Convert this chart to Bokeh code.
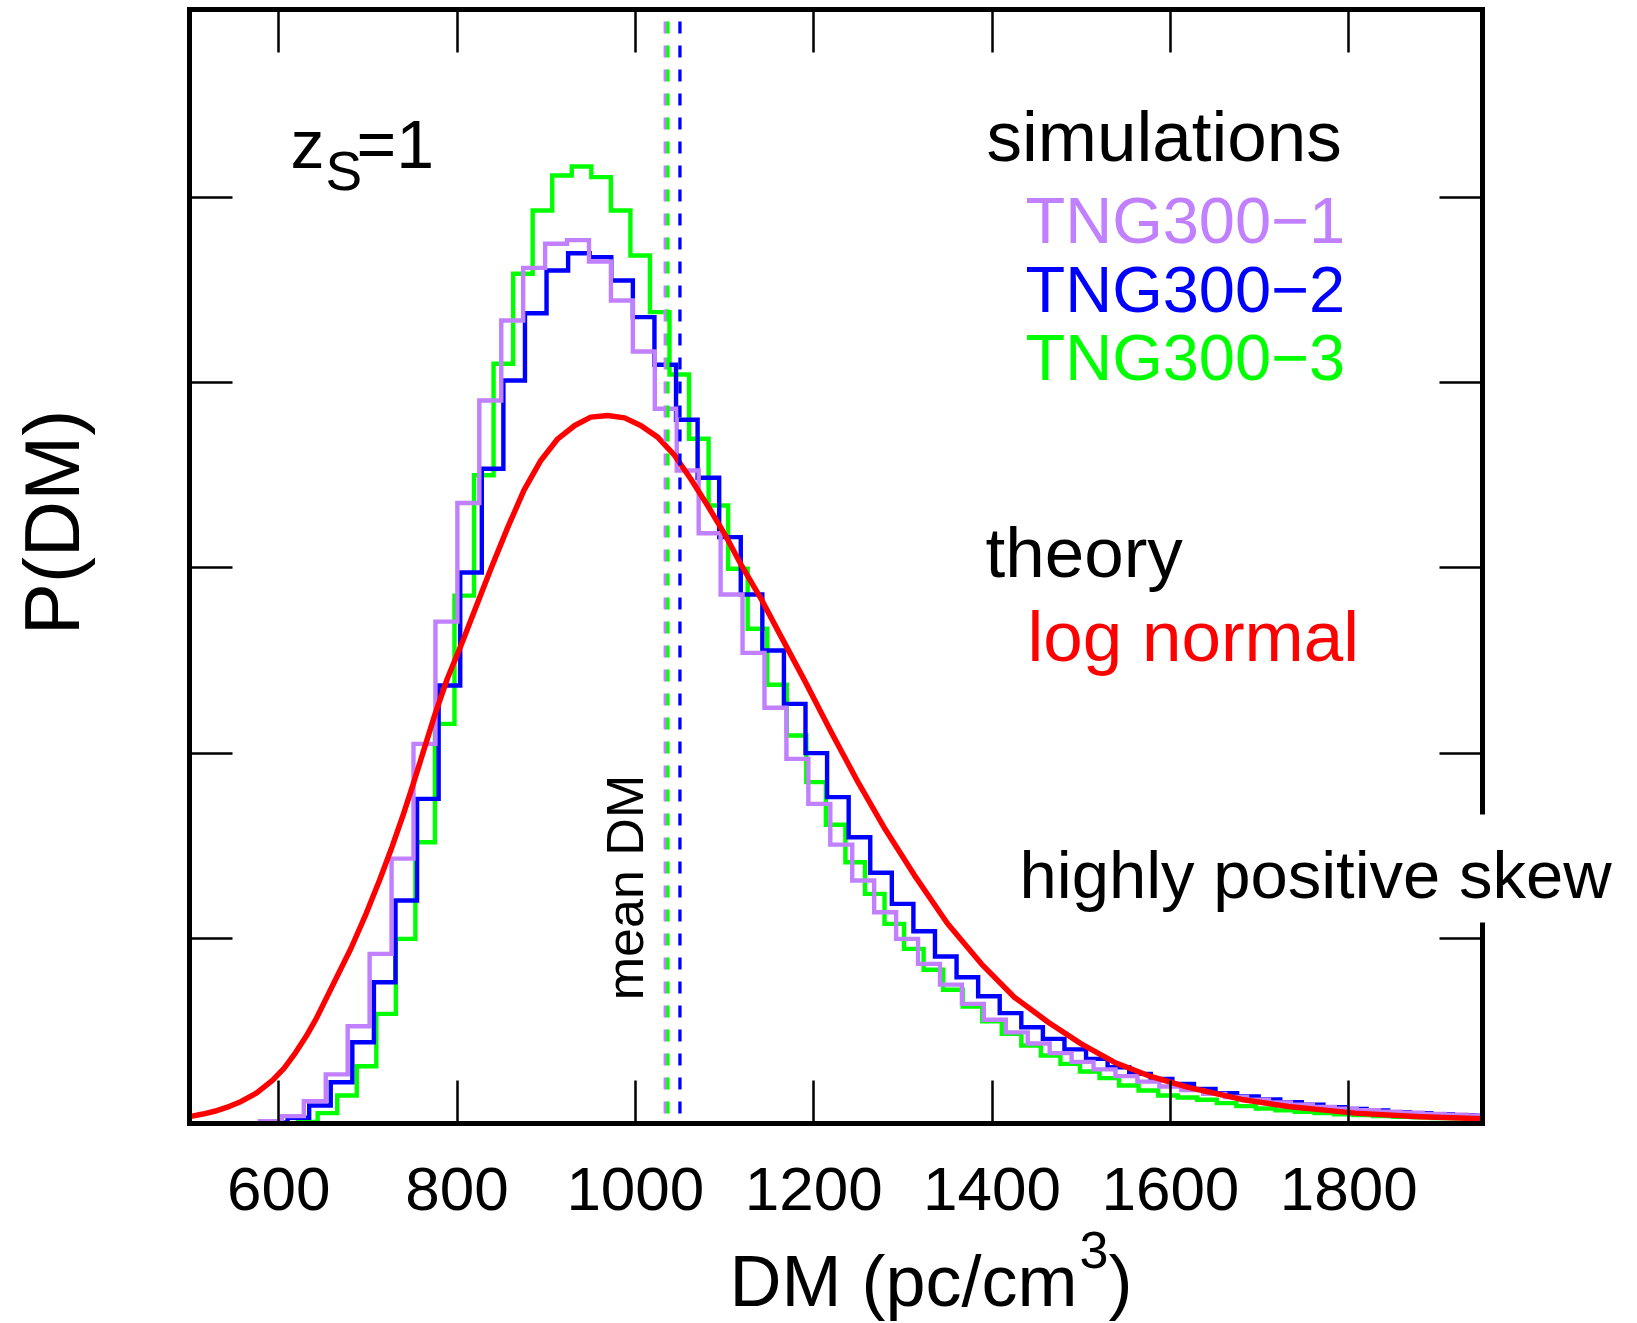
import numpy as np
from bokeh.plotting import figure
from bokeh.models import Range1d, FixedTicker, LinearAxis, Label, Span
from bokeh.embed import file_html
from bokeh.resources import INLINE

# ---------------- data ----------------
x_ticks = [600, 800, 1000, 1200, 1400, 1600, 1800]
y_ticks = [1, 2, 3, 4, 5]

# TNG300-1 histogram (purple): first bin edge, bin width, heights
tng1_start, tng1_width = 579.0, 24.6
tng1_p = [0.012, 0.04, 0.12, 0.265, 0.525, 0.916, 1.43, 2.05, 2.71, 3.35,
          3.904, 4.336, 4.62, 4.75, 4.77, 4.654, 4.444, 4.168, 3.859, 3.526,
          3.187, 2.856, 2.541, 2.245, 1.969, 1.726, 1.506, 1.312, 1.141, 0.997,
          0.862, 0.75, 0.646, 0.56, 0.492, 0.432, 0.38, 0.333, 0.292, 0.256,
          0.226, 0.2, 0.18, 0.16, 0.143, 0.128, 0.114, 0.101, 0.09, 0.08,
          0.072, 0.064, 0.058, 0.052, 0.047, 0.043]

# TNG300-2 histogram (blue)
tng2_start, tng2_width = 585.8, 24.2
tng2_p = [0.005, 0.031, 0.097, 0.223, 0.439, 0.763, 1.204, 1.753, 2.365, 2.975,
          3.535, 4.012, 4.375, 4.606, 4.699, 4.678, 4.552, 4.354, 4.097, 3.80,
          3.487, 3.166, 2.856, 2.554, 2.266, 2.0, 1.762, 1.546, 1.354, 1.186,
          1.038, 0.902, 0.79, 0.687, 0.596, 0.52, 0.457, 0.40, 0.349, 0.304,
          0.268, 0.241, 0.214, 0.187, 0.164, 0.146, 0.130, 0.115, 0.101, 0.088,
          0.079, 0.070, 0.061, 0.056, 0.050, 0.045, 0.042]

# TNG300-3 histogram (green)
tng3_start, tng3_width = 621.8, 21.92
tng3_p = [0.008, 0.056, 0.151, 0.309, 0.592, 0.997, 1.519, 2.158, 2.85, 3.50,
          4.102, 4.588, 4.93, 5.119, 5.167, 5.11, 4.93, 4.687, 4.381, 4.044,
          3.697, 3.337, 2.995, 2.671, 2.369, 2.095, 1.843, 1.613, 1.411, 1.24,
          1.078, 0.943, 0.83, 0.722, 0.632, 0.552, 0.484, 0.421, 0.367, 0.322,
          0.281, 0.245, 0.205, 0.178, 0.151, 0.14, 0.128, 0.11, 0.094, 0.081,
          0.071, 0.063, 0.056, 0.05, 0.045, 0.04, 0.036, 0.033, 0.03, 0.028, 0.026]

# mean DM of each simulation (dashed lines)
mean_tng1 = 1033.5
mean_tng2 = 1050.0
mean_tng3 = 1036.5

# log-normal theory curve
lognorm_dm = [500, 515, 528, 545, 558, 575, 593, 606, 619, 631,
              642, 662, 681, 698, 713, 727, 740, 751, 763, 775,
              789, 806, 823, 838, 857, 875, 894, 913, 932, 950,
              969, 988, 1006, 1025, 1044, 1062, 1081, 1100, 1118, 1141,
              1160, 1190, 1220, 1250, 1280, 1313, 1350, 1388, 1425, 1463,
              1500, 1537, 1575, 1620, 1680, 1732, 1807, 1880, 1950]
lognorm_p = [0.037, 0.051, 0.066, 0.093, 0.119, 0.164, 0.233, 0.298, 0.383, 0.472,
             0.565, 0.76, 0.945, 1.132, 1.312, 1.492, 1.672, 1.835, 2.02, 2.205,
             2.40, 2.60, 2.81, 2.995, 3.22, 3.418, 3.58, 3.697, 3.769, 3.814,
             3.823, 3.81, 3.769, 3.706, 3.607, 3.481, 3.337, 3.184, 3.022, 2.833,
             2.66, 2.39, 2.11, 1.84, 1.59, 1.34, 1.08, 0.862, 0.682, 0.547,
             0.43, 0.331, 0.259, 0.195, 0.13, 0.092, 0.056, 0.037, 0.025]

# ---------------- styling ----------------
PURPLE = "#C080FF"
BLUE = "#0000FF"
GREEN = "#00FF00"
RED = "#FF0000"
FONT = "Liberation Sans"

W, H = 1637, 1323
FL, FR, FT, FB = 189, 1482, 9, 1123        # frame edges in pixels
X0, X1 = 500, 1950
Y0, Y1 = 0, 6.015

p = figure(width=W, height=H, x_range=Range1d(X0, X1), y_range=Range1d(Y0, Y1),
           output_backend="svg", toolbar_location=None,
           min_border_left=FL, min_border_right=W - FR,
           min_border_top=FT, min_border_bottom=H - FB,
           background_fill_color="white", border_fill_color="white")
p.outline_line_color = None
p.xgrid.grid_line_color = None
p.ygrid.grid_line_color = None


def style_axis(ax, ticks, labels):
    ax.ticker = FixedTicker(ticks=ticks)
    ax.axis_line_width = 5
    ax.axis_line_color = "black"
    ax.axis_line_cap = "square"
    ax.major_tick_in = 43
    ax.major_tick_out = 0
    ax.major_tick_line_width = 2.5
    ax.major_tick_line_color = "black"
    ax.minor_tick_line_color = None
    if labels:
        ax.major_label_text_font = FONT
        ax.major_label_text_font_size = "62px"
        ax.major_label_text_color = "black"
        ax.major_label_standoff = 44
    else:
        ax.major_label_text_font_size = "1px"
        ax.major_label_text_color = None
        ax.major_label_standoff = 0


style_axis(p.xaxis[0], x_ticks, True)
style_axis(p.yaxis[0], y_ticks, False)
top_ax = LinearAxis()
style_axis(top_ax, x_ticks, False)
p.add_layout(top_ax, "above")
right_ax = LinearAxis()
style_axis(right_ax, y_ticks, False)
p.add_layout(right_ax, "right")


def hist_xy(start, width, vals):
    edges = start + width * np.arange(len(vals) + 1)
    xs = np.concatenate([[edges[0]], edges])
    ys = np.concatenate([[0.0], vals, [vals[-1]]])
    return xs, ys


for start, width, vals, col in [(tng3_start, tng3_width, tng3_p, GREEN),
                                (tng2_start, tng2_width, tng2_p, BLUE),
                                (tng1_start, tng1_width, tng1_p, PURPLE)]:
    xs, ys = hist_xy(start, width, vals)
    p.step(xs, ys, mode="after", line_color=col, line_width=4.4, line_join="miter")

p.line(lognorm_dm, lognorm_p, line_color=RED, line_width=5.5, line_join="round")

for m, col in [(mean_tng1, PURPLE), (mean_tng3, GREEN), (mean_tng2, BLUE)]:
    p.add_layout(Span(location=m, dimension="height", line_color=col,
                      line_width=3.3, line_dash="12 12", line_dash_offset=12))


def dx(px):
    return X0 + (px - FL) * (X1 - X0) / (FR - FL)


def dy(py):
    return Y0 + (FB - py) * (Y1 - Y0) / (FB - FT)


SHIFT = 0.32   # empirical baseline correction (in em)


def add_text(txt, px, py, size, color="black", angle=0.0, align="left",
             baseline="alphabetic", place="center", shift=True, **kw):
    if shift:
        py = py - SHIFT * size
    lab = Label(x=dx(px), y=dy(py), text=txt, text_font=FONT,
                text_font_size=f"{size}px", text_color=color, angle=angle,
                text_align=align, text_baseline=baseline, **kw)
    p.add_layout(lab, place)
    return lab


# legend-like texts
add_text("simulations", 986, 159, 71)
add_text("TNG300\u22121", 1025, 241, 65, PURPLE)
add_text("TNG300\u22122", 1025, 310, 65, BLUE)
add_text("TNG300\u22123", 1025, 378, 65, GREEN)
add_text("theory", 985, 575, 71)
add_text("log normal", 1027, 659, 71, RED)

# "highly positive skew" overflows the frame on the right: the last word goes
# into the right panel (not clipped) with a white box that hides the frame line
SKEW_SIZE = 67
add_text("highly positive ", 1019, 895, SKEW_SIZE)
skew = add_text("skew", 1019 + 6.558 * SKEW_SIZE, 889.5, SKEW_SIZE,
                background_fill_color="white",
                padding=dict(left=0, right=0, top=22, bottom=11), place="right")
skew.level = "overlay"

# z_s = 1
add_text("z", 290, 165, 68)
add_text("S", 325, 188, 55)
add_text("=1", 356, 165, 68)

# mean DM (rotated)
add_text("mean DM", 624, 887, 52, angle=np.pi / 2, align="center",
         baseline="middle", shift=False)

# axis titles (in side panels so that they are not clipped by the frame)
add_text("P(DM)", 51, 522, 78, angle=np.pi / 2, align="center",
         baseline="middle", shift=False, place="left")
add_text("DM (pc/cm", 729, 1304, 72, place="below")
add_text("3", 1079, 1266, 52, place="left")
add_text(")", 1108, 1304, 72, place="left")

open("out.html", "w").write(file_html(p, INLINE))
